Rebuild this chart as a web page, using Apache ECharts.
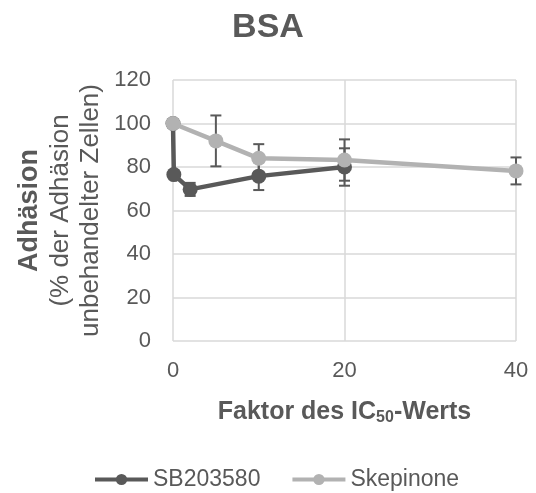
<!DOCTYPE html>
<html>
<head>
<meta charset="utf-8">
<script src="https://cdn.jsdelivr.net/npm/echarts@6/dist/echarts.min.js"></script>
<style>
html, body { margin: 0; padding: 0; background: #fff; }
#chart { width: 536px; height: 493px; }
</style>
</head>
<body>
<div id="chart"></div>
<script>
// Faktor des IC50-Werts
const sbX = [0, 0.1, 2, 10, 20]
const sbY = [100, 76.5, 69.7, 75.8, 80]
const sbErr = [0, 0, 3, 6.4, 8.6]

const skX = [0, 5, 10, 20, 40]
const skY = [100, 92, 84, 83.2, 78.2]
const skErr = [0, 11.7, 6.5, 9.5, 6.2]

const yTicks = [0, 20, 40, 60, 80, 100, 120]
const xTicks = [0, 20, 40]

const dark = "#595959"
const light = "#b2b2b2"
const font = "'Liberation Sans', Arial, sans-serif"

const toPoints = (xs, ys) => xs.map((x, i) => [x, ys[i]])
const toErr = (xs, ys, es) =>
	xs.map((x, i) => [x, ys[i] - es[i], ys[i] + es[i]]).filter((d, i) => es[i] > 0)

const errRender = (params, api) => {
	const x = api.value(0)
	const top = api.coord([x, api.value(2)])
	const bot = api.coord([x, api.value(1)])
	const w = 5.5
	const style = { stroke: dark, lineWidth: 2 }
	return {
		type: "group",
		children: [
			{ type: "line", shape: { x1: top[0], y1: top[1], x2: bot[0], y2: bot[1] }, style },
			{ type: "line", shape: { x1: top[0] - w, y1: top[1], x2: top[0] + w, y2: top[1] }, style },
			{ type: "line", shape: { x1: bot[0] - w, y1: bot[1], x2: bot[0] + w, y2: bot[1] }, style }
		]
	}
}

const chart = echarts.init(document.getElementById("chart"))
chart.setOption({
	animation: false,
	textStyle: { fontFamily: font },
	title: {
		text: "BSA",
		left: "center",
		top: 6,
		textStyle: { fontSize: 34, fontWeight: "bold", color: dark, fontFamily: font }
	},
	grid: { left: 173, right: 20, top: 80, bottom: 152 },
	legend: {
		data: ["SB203580", "Skepinone"],
		left: 88,
		top: 463,
		itemWidth: 53,
		itemHeight: 14,
		itemGap: 30,
		lineStyle: { width: 4 },
		textStyle: { fontSize: 23, color: dark, fontFamily: font }
	},
	xAxis: {
		type: "value",
		min: xTicks[0],
		max: xTicks[xTicks.length - 1],
		interval: 20,
		axisLine: { show: false },
		axisTick: { show: false },
		splitLine: { lineStyle: { color: "#d9d9d9", width: 1.5 } },
		axisLabel: { fontSize: 22, color: dark, margin: 19 },
		name: "Faktor des IC{sub|50}-Werts",
		nameLocation: "middle",
		nameGap: 57,
		nameTextStyle: {
			fontSize: 25,
			fontWeight: "bold",
			color: dark,
			rich: {
				sub: { fontSize: 16, fontWeight: "bold", color: dark, verticalAlign: "bottom", padding: [12, 0, 0, 0] }
			}
		}
	},
	yAxis: {
		type: "value",
		min: yTicks[0],
		max: yTicks[yTicks.length - 1],
		interval: 20,
		axisLine: { show: false },
		axisTick: { show: false },
		splitLine: { lineStyle: { color: "#d9d9d9", width: 1.5 } },
		axisLabel: { fontSize: 22, color: dark, margin: 22 },
		name: "{b|Adhäsion}\n{n|(% der Adhäsion}\n{n|unbehandelter Zellen)}",
		nameLocation: "middle",
		nameRotate: 90,
		nameGap: 67,
		nameTextStyle: {
			color: dark,
			rich: {
				b: { fontSize: 27, fontWeight: "bold", color: dark, lineHeight: 32 },
				n: { fontSize: 26, color: dark, lineHeight: 30 }
			}
		}
	},
	series: [
		{
			type: "custom",
			renderItem: errRender,
			data: toErr(sbX, sbY, sbErr),
			z: 1
		},
		{
			type: "custom",
			renderItem: errRender,
			data: toErr(skX, skY, skErr),
			z: 1
		},
		{
			name: "SB203580",
			type: "line",
			data: toPoints(sbX, sbY),
			color: dark,
			symbol: "circle",
			symbolSize: 15,
			lineStyle: { width: 4.5, color: dark },
			itemStyle: { color: dark },
			z: 2
		},
		{
			name: "Skepinone",
			type: "line",
			data: toPoints(skX, skY),
			color: light,
			symbol: "circle",
			symbolSize: 15,
			lineStyle: { width: 4.5, color: light },
			itemStyle: { color: light },
			z: 3
		}
	]
})
</script>
</body>
</html>
